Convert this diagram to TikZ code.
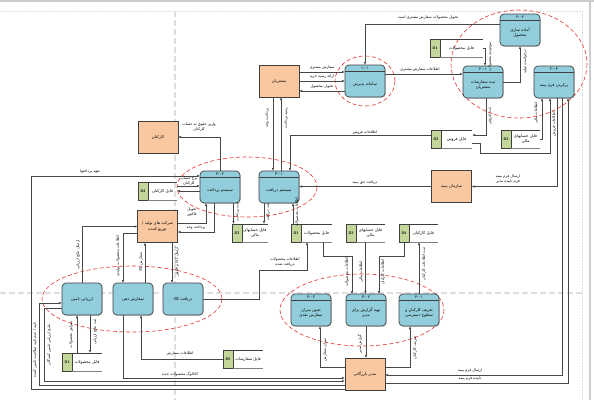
\documentclass[tikz,border=0pt]{standalone}
\usepackage{fontspec}
\newfontfamily\arabicfont[Script=Arabic]{DejaVu Sans}
\TeXXeTstate=1
\usetikzlibrary{arrows.meta,calc,shadows}
\definecolor{procblue}{RGB}{146,205,220}
\definecolor{entorange}{RGB}{250,200,160}
\definecolor{storegreen}{RGB}{196,215,155}
\definecolor{ellred}{RGB}{232,50,50}
\newcommand\fa[1]{\beginR #1\endR}
\tikzset{
  every node/.style={inner sep=0pt, outer sep=0pt},
  procbox/.style={draw=black!75, line width=0.7pt, fill=procblue, rounded corners=4pt,
    minimum width=40pt, minimum height=32pt,
    drop shadow={shadow xshift=0.8pt, shadow yshift=-0.8pt, fill=black!35}},
  entbox/.style={draw=black!75, line width=0.7pt, fill=entorange,
    minimum width=40pt, minimum height=32pt,
    drop shadow={shadow xshift=0.8pt, shadow yshift=-0.8pt, fill=black!35}},
  fatext/.style={font=\arabicfont\fontsize{4}{5.2}\selectfont, align=center},
  lbl/.style={font=\arabicfont\fontsize{3.7}{4.5}\selectfont, align=center},
  vlbl/.style={lbl, rotate=90},
  flow/.style={draw=black!72, line width=0.75pt, -{Latex[length=3pt,width=2.4pt]}},
  ell/.style={draw=ellred, line width=0.6pt, dash pattern=on 4pt off 2.5pt},
  pagedash/.style={draw=black!13, line width=1.3pt, dash pattern=on 6pt off 3pt},
}
\newcommand\mkproc[5]{%
  \node[procbox] (#1) at (#2,#3) {};
  \draw[black!75, line width=0.9pt] ([yshift=-6.5pt]#1.north west) -- ([yshift=-6.5pt]#1.north east);
  \node[fatext] at ([yshift=-3.4pt]#1.north) {#4};
  \node[fatext] at ([yshift=-3pt]#1.center) {#5};
}
\newcommand\mkstore[6]{%
  \node[minimum width=#4pt, minimum height=18pt, anchor=north west] (#1) at (#2,#3) {};
  \draw[draw=black!75, line width=0.6pt, fill=storegreen] (#1.north west) rectangle ([xshift=10pt]#1.south west);
  \draw[black!75, line width=0.6pt] ([xshift=10pt]#1.north west) -- (#1.north east);
  \draw[black!50, line width=1pt] ([xshift=10pt]#1.south west) -- (#1.south east);
  \node[font=\sffamily\bfseries\fontsize{3.6}{4}\selectfont] at ([xshift=5pt]#1.west) {#5};
  \node[fatext] at ([xshift=5pt]#1.center) {#6};
}
\begin{document}
\begin{tikzpicture}[x=1pt,y=-1pt]
\useasboundingbox (0,0) rectangle (594,400);
\fill[white] (0,0) rectangle (594,400);
% page guides
\draw[black!20, line width=2pt] (0,1) -- (594,1);
\draw[black!20, line width=2pt] (590,0) -- (590,400);
\draw[black!13, line width=0.6pt, dash pattern=on 2pt off 1pt] (0,11) -- (582,11) -- (582,400);
\draw[pagedash] (175,11) -- (175,400);
\draw[pagedash] (0,293) -- (582,293);
% ellipses
\draw[ell] (519,64) ellipse [x radius=68, y radius=54];
\draw[ell] (365,81) ellipse [x radius=30, y radius=25];
\draw[ell] (247,187) ellipse [x radius=70, y radius=30];
\draw[ell] (132,299) ellipse [x radius=90, y radius=33];
\draw[ell] (362,310) ellipse [x radius=82, y radius=36];

% processes
\mkproc{p101}{365}{81}{۱-۰۱}{\fa{سامانه پذیرش}}
\mkproc{p201}{483}{82}{۲-۰۱}{\fa{ثبت سفارشات}\\\fa{مشتریان}}
\mkproc{p202}{520}{30}{۲-۰۲}{\fa{آماده سازی}\\\fa{محصول}}
\mkproc{p203}{554}{82}{۲-۰۳}{\fa{پرکردن فرم بیمه}}
\mkproc{p301}{279}{187}{۳-۰۱}{\fa{سیستم دریافت}}
\mkproc{p302}{220}{187}{۳-۰۲}{\fa{سیستم پرداخت}}
\mkproc{p403}{311}{310}{۴-۰۳}{\fa{تعیین میزان}\\\fa{سفارش نقدی}}
\mkproc{p402}{366}{310}{۴-۰۲}{\fa{تهیه گزارش برای}\\\fa{مدیر}}
\mkproc{p401}{419}{310}{۴-۰۱}{\fa{تعریف کارکنان و}\\\fa{سطوح دسترسی}}
\node[procbox, fatext] (pa) at (82,299) {\fa{ارزیابی تامین}};
\node[procbox, fatext] (pb) at (133,299) {\fa{سفارش دهی}};
\node[procbox, fatext] (pc) at (183,299) {\fa{دریافت کالا}};

% entities
\node[entbox, fatext] (cust) at (279,81) {\fa{مشتریان}};
\node[entbox, fatext] (staff) at (158,137) {\fa{کارکنان}};
\node[entbox, fatext] (supp) at (157.5,226.5) {\fa{شرکت های تولید /}\\\fa{توزیع کننده}};
\node[entbox, fatext] (ins) at (451.5,186.5) {\fa{سازمان بیمه}};
\node[entbox, fatext] (mgr) at (365,374) {\fa{مدیر بازرگانی}};

% data stores
\mkstore{sProdTop}{430}{39}{53}{D1}{\fa{فایل محصولات}}
\mkstore{sSale}{431}{130}{41}{D2}{\fa{فایل فروش}}
\mkstore{sFinTop}{501}{130}{39}{D3}{\fa{فایل حسابهای}\\\fa{مالی}}
\mkstore{sStaff1}{138}{182}{39}{D4}{\fa{فایل کارکنان}}
\mkstore{sFin2}{232}{224}{36}{D3}{\fa{فایل حسابهای}\\\fa{مالی}}
\mkstore{sProd2}{291}{224}{41}{D1}{\fa{فایل محصولات}}
\mkstore{sFin3}{346}{224}{39}{D3}{\fa{فایل حسابهای}\\\fa{مالی}}
\mkstore{sStaff2}{399}{224}{39}{D4}{\fa{فایل کارکنان}}
\mkstore{sProd4}{62}{353}{40}{D1}{\fa{فایل محصولات}}
\mkstore{sOrder}{223}{350}{40}{D5}{\fa{فایل سفارشات}}

% connectors: top
\draw[flow] ([yshift=6pt]p202.west) -| (p101.north);
\draw[flow] (sProdTop.east) -| ([xshift=2pt]p201.north);
\draw[flow] ([yshift=7pt]p101.east) -- ([yshift=8pt]p201.west);
\draw[flow] (p201.east) -| (p202.south);
\draw[flow] ([yshift=9pt]cust.east) -- ([yshift=9pt]p101.west);
\draw[flow] (cust.east) -- (p101.west);
\draw[flow] ([yshift=-10pt]p101.west) -- ([yshift=-10pt]cust.east);
\draw[flow] ([xshift=3pt]p201.south) |- ([yshift=4pt]sSale.east);
\draw[flow] ([yshift=4pt]sSale.west) -| ([xshift=11pt]p301.north);
\draw[flow] ([yshift=-4pt]sSale.east) -- ++(8,0) |- (550,153) -- ([xshift=-4pt]p203.south);
\draw[flow] (sFinTop.east) -| ([xshift=-12pt]p203.south);
\draw[flow] ([xshift=3pt]p203.south) |- (ins.east);
\draw[flow] (ins.west) -- (ins.west -| p301.east);
\draw[flow] ([xshift=8pt]p203.south) |- ([yshift=-1pt]mgr.east);
\draw[flow] ([yshift=-9pt]mgr.east) -| ([xshift=14pt]p203.south);
\draw[flow] ([xshift=-6pt]cust.south) -- ([xshift=-6pt]p301.north);
\draw[flow] ([xshift=2pt]p301.north) -- ([xshift=2pt]cust.south);
% middle
\draw[flow] (p302.north) |- (staff.east);
\draw[flow] ([yshift=-15pt]mgr.west) -| (31,176) -- ([yshift=11pt]p302.west);
\draw[flow] ([yshift=5pt]sStaff1.east) -- ++(23,0);
\draw[flow] ([yshift=-4pt]p302.west) -- ++(-23,0);
\draw[flow] ([yshift=3.5pt]supp.east) -| ([xshift=-14pt]p302.south);
\draw[flow] ([xshift=-6pt]p302.south) |- ([yshift=-5.5pt]supp.east);
\draw[flow] (pa.north) |- (supp.west);
\draw[flow] ([yshift=-6.5pt]supp.west) -| ([xshift=-10pt]pb.north);
\draw[flow] ([xshift=12pt]pb.north) -- ([xshift=-12.5pt]supp.south);
\draw[flow] ([xshift=14.5pt]supp.south) -- ([xshift=-11pt]pc.north);
\draw[flow] (pc.east) -| (259,270) -| ([xshift=-4.5pt]sProd2.south);
\draw[flow] ([xshift=13.5pt]p302.south) -- ([xshift=-16.5pt]sFin2.north);
\draw[flow] ([xshift=-15pt]p301.south) -- ([xshift=14pt]sFin2.north);
\draw[flow] ([xshift=-18.5pt]sProd2.north) -- ([xshift=14pt]p301.south);
% bottom left
\draw[flow] ([xshift=-5pt]sProd4.north) -- ([xshift=-5pt]pa.south);
\draw[flow] ([xshift=8pt]pa.south) -- ([xshift=8pt]sProd4.north);
\draw[flow] ([yshift=-11pt]mgr.west) -| (39,303) -- ([yshift=-4pt]pa.west);
\draw[flow] ([yshift=-9pt]pa.west) -| (44,381) -- ([yshift=-7pt]mgr.west);
\draw[flow] ([xshift=-10pt]pb.south) |- ([yshift=-4pt]mgr.west);
\draw[flow] (sOrder.west) -| ([xshift=8pt]pb.south);
% bottom right
\draw[flow] ([xshift=11.5pt]sProd2.south) -- ++(0,14) -| ([xshift=-14pt]p402.north);
\draw[flow] (sFin3.south) -- (sFin3.south |- p402.north);
\draw[flow] ([xshift=-14.5pt]sStaff2.south) -- ++(0,14) -| ([xshift=13pt]p402.north);
\draw[flow] (p401.north) -- (p401.north |- sStaff2.south);
\draw[flow] ([yshift=7pt]mgr.west) -| ([xshift=9pt]p403.south);
\draw[flow] (p402.south) -- (p402.south |- mgr.north);
\draw[flow] ([yshift=7pt]mgr.east) -| ([xshift=-9pt]p401.south);

% labels
\node[lbl] at (428,18) {\fa{تحویل محصولات سفارش مشتری است}};
\node[lbl] at (420,70) {\fa{اطلاعات سفارش مشتری}};
\node[lbl] at (322,68) {\fa{سفارش مشتری}};
\node[lbl] at (322,77) {\fa{ارائه رسید خرید}};
\node[lbl] at (322,87) {\fa{تحویل محصول}};
\node[vlbl] at (490,57) {\fa{موجودی محصولات}};
\node[vlbl] at (525,62) {\fa{درخواست تولید}};
\node[vlbl] at (490,116) {\fa{ثبت فروش}};
\node[lbl] at (365,133) {\fa{اطلاعات فروش}};
\node[vlbl] at (536,113) {\fa{اطلاعات مالی}};
\node[vlbl] at (554,124) {\fa{اطلاعات فروش}};
\node[lbl] at (508,179) {\fa{ارسال فرم بیمه}\\\fa{فرم تاییده مدیر}};
\node[lbl] at (365,183) {\fa{دریافت حق بیمه}};
\node[lbl] at (470,371) {\fa{ارسال فرم بیمه}};
\node[lbl] at (470,379) {\fa{تاییده فرم بیمه}};
\node[vlbl] at (267,118) {\fa{پرداخت وجه}};
\node[vlbl] at (286,118) {\fa{رسید پرداخت}};
\node[lbl] at (199,127) {\fa{واریز حقوق به حساب}\\\fa{کارکنان}};
\node[lbl] at (90,172) {\fa{تعهد پرداختها}};
\node[lbl] at (189,181) {\fa{نرخ حساب}\\\fa{کارکنان}};
\node[lbl] at (192,212) {\fa{تحویل}\\\fa{فاکتور}};
\node[lbl] at (196,228) {\fa{پرداخت وجه}};
\node[vlbl] at (78,255) {\fa{ارسال نتایج ارزیابی}};
\node[vlbl] at (118,256) {\fa{اطلاعات محصولات تولیدی}};
\node[vlbl] at (141,262) {\fa{سفارش کالا}};
\node[vlbl] at (177,262) {\fa{ارسال کالا و فاکتور}};
\node[lbl] at (285,262) {\fa{اطلاعات محصولات}\\\fa{دریافت شده}};
\node[vlbl] at (71,335) {\fa{سوابق محصولات}};
\node[vlbl] at (95,332) {\fa{ثبت نتایج ارزیابی}};
\node[vlbl] at (35,350) {\fa{تایید / عدم تایید صلاحیت تامین کننده}};
\node[vlbl] at (49,345) {\fa{نتایج ارزیابی تامین کنندگان}};
\node[lbl] at (180,374) {\fa{کاتالوگ محصولات جدید}};
\node[lbl] at (180,354) {\fa{اطلاعات سفارش}};
\node[vlbl] at (237.5,212) {\fa{ثبت پرداخت}};
\node[vlbl] at (268,212) {\fa{ثبت دریافت}};
\node[vlbl] at (297,212) {\fa{اطلاعات محصولات}};
\node[vlbl] at (347,272) {\fa{اطلاعات محصولات}};
\node[vlbl] at (361,272) {\fa{اطلاعات مالی}};
\node[vlbl] at (383,272) {\fa{اطلاعات کارکنان}};
\node[vlbl] at (424,264) {\fa{ثبت اطلاعات کارکنان}};
\node[vlbl] at (325,350) {\fa{میزان سفارش}};
\node[vlbl] at (360,344) {\fa{گزارش مدیر}};
\node[vlbl] at (415,348) {\fa{تعریف کارکنان}};
\end{tikzpicture}
\end{document}
